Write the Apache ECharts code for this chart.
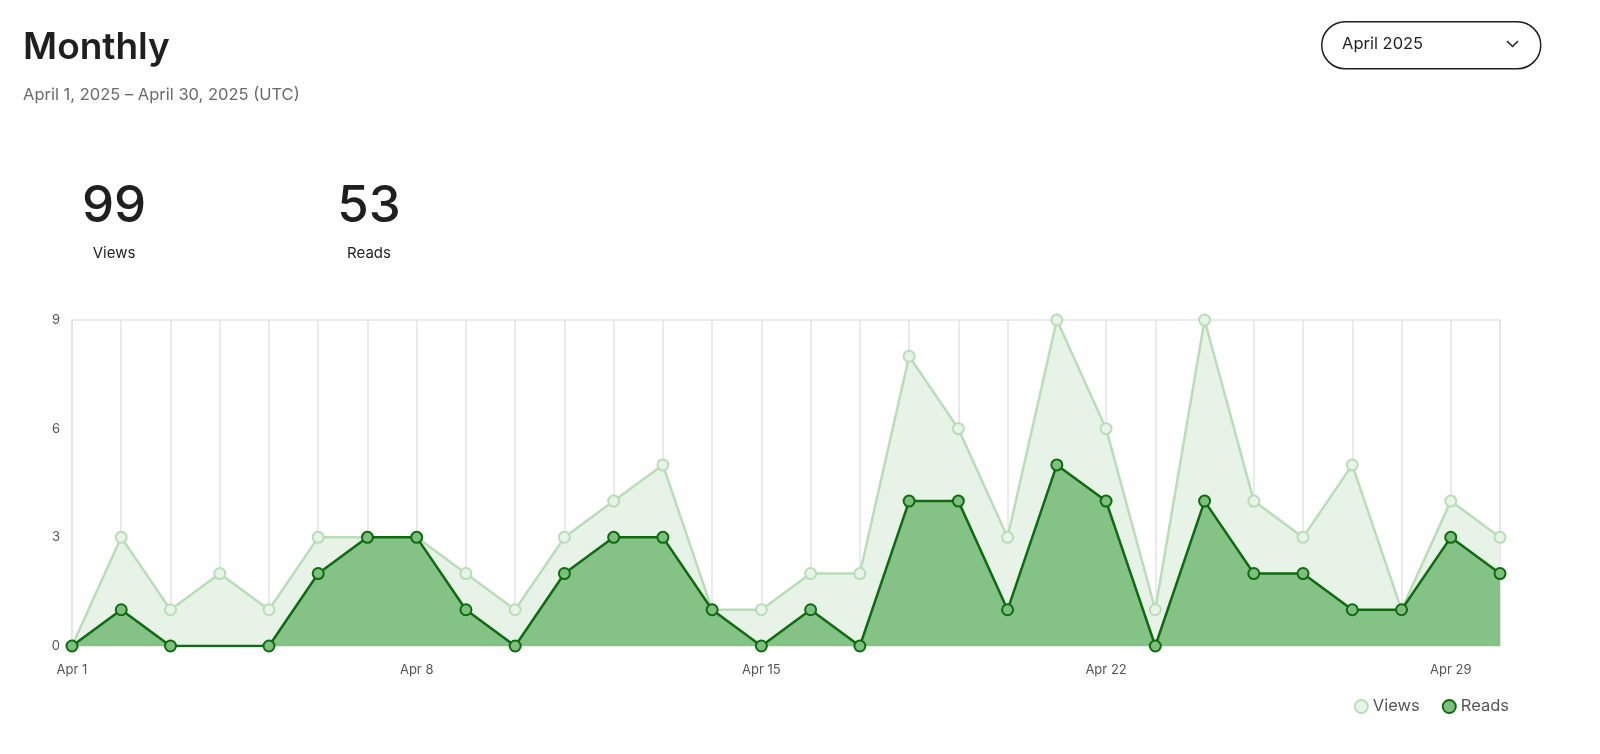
<!DOCTYPE html>
<html>
<head>
<meta charset="utf-8">
<script src="https://cdn.jsdelivr.net/npm/echarts@6/dist/echarts.min.js"></script>
<style>
  html, body { margin: 0; padding: 0; background: #ffffff; }
  #chart { width: 1600px; height: 754px; }
</style>
</head>
<body>
<div id="chart"></div>
<script>
const days = ["Apr 1","Apr 2","Apr 3","Apr 4","Apr 5","Apr 6","Apr 7","Apr 8","Apr 9","Apr 10",
  "Apr 11","Apr 12","Apr 13","Apr 14","Apr 15","Apr 16","Apr 17","Apr 18","Apr 19","Apr 20",
  "Apr 21","Apr 22","Apr 23","Apr 24","Apr 25","Apr 26","Apr 27","Apr 28","Apr 29","Apr 30"];
const views = [0,3,1,2,1,3,3,3,2,1, 3,4,5,1,1,2,2,8,6,3, 9,6,1,9,4,3,5,1,4,3];
const reads = [0,1,0,0,0,2,3,3,1,0, 2,3,3,1,0,1,0,4,4,1, 5,4,0,4,2,2,1,1,3,2];
const yTicks = [0,3,6,9];
const totalViews = "99";
const totalReads = "53";
const titleText = "Monthly";
const subtitleText = "April 1, 2025 – April 30, 2025 (UTC)";
const periodText = "April 2025";

const FONT = "Inter, 'Noto Sans', sans-serif";
const chart = echarts.init(document.getElementById('chart'), null, { renderer: 'canvas' });

const readsData = reads.map((v, i) => i === 3 ? { value: v, symbol: 'none' } : v);

chart.setOption({
  backgroundColor: '#ffffff',
  animation: false,
  textStyle: { fontFamily: FONT },
  title: [
    { text: titleText, left: 18, top: 24,
      textStyle: { fontFamily: FONT, fontSize: 37, fontWeight: 600, color: '#1f1f1f' } },
    { text: subtitleText, left: 18, top: 82,
      textStyle: { fontFamily: FONT, fontSize: 16.5, fontWeight: 400, color: '#6b6b6b' } },
    { text: totalViews, left: 109, top: 176, textAlign: 'center',
      textStyle: { fontFamily: FONT, fontSize: 51, fontWeight: 500, color: '#1f1f1f' } },
    { text: 'Views', left: 109, top: 241, textAlign: 'center',
      textStyle: { fontFamily: FONT, fontSize: 15, fontWeight: 400, color: '#1f1f1f' } },
    { text: totalReads, left: 364, top: 176, textAlign: 'center',
      textStyle: { fontFamily: FONT, fontSize: 51, fontWeight: 500, color: '#1f1f1f' } },
    { text: 'Reads', left: 364, top: 241, textAlign: 'center',
      textStyle: { fontFamily: FONT, fontSize: 15, fontWeight: 400, color: '#1f1f1f' } }
  ],
  graphic: [
    { type: 'rect', left: 1321, top: 21,
      shape: { width: 219, height: 47, r: 23.5 },
      style: { fill: '#ffffff', stroke: '#1f1f1f', lineWidth: 1.5 } },
    { type: 'text', left: 1342, top: 36,
      style: { text: periodText, font: '400 16.5px ' + FONT, fill: '#1f1f1f' } },
    { type: 'polyline',
      shape: { points: [[1507, 41], [1512.5, 46.5], [1518, 41]] },
      style: { stroke: '#1f1f1f', lineWidth: 1.5, fill: null } }
  ],
  legend: {
    right: 86, top: 693,
    icon: 'circle', itemWidth: 13, itemHeight: 13, itemGap: 22,
    textStyle: { fontFamily: FONT, fontSize: 16.5, color: '#555555' },
    data: ['Views', 'Reads']
  },
  grid: {
    left: 72, right: 100, top: 320, bottom: 108,
    show: true, borderColor: '#e3e3e3', borderWidth: 1.5, backgroundColor: 'transparent'
  },
  xAxis: {
    type: 'category', data: days, boundaryGap: false,
    axisLine: { show: false }, axisTick: { show: false },
    axisLabel: { interval: 6, color: '#555555', fontSize: 13, fontFamily: FONT, margin: 18 },
    splitLine: { show: true, interval: 0, lineStyle: { color: '#e3e3e3', width: 1.5 } }
  },
  yAxis: {
    type: 'value', min: yTicks[0], max: yTicks[yTicks.length - 1], interval: 3,
    axisLine: { show: false }, axisTick: { show: false },
    axisLabel: { color: '#555555', fontSize: 13, fontFamily: FONT, margin: 12 },
    splitLine: { show: false }
  },
  series: [
    { name: 'Views', type: 'line', data: views, symbol: 'circle', symbolSize: 11,
      lineStyle: { color: '#b9dcb9', width: 2.5 },
      itemStyle: { color: '#e9f4e9', borderColor: '#b9dcb9', borderWidth: 2 },
      areaStyle: { color: '#e7f3e7', opacity: 1 },
      z: 2 },
    { name: 'Reads', type: 'line', data: readsData, symbol: 'circle', symbolSize: 11,
      lineStyle: { color: '#0f6a12', width: 2.5 },
      itemStyle: { color: '#7dbf7d', borderColor: '#0f6a12', borderWidth: 2 },
      areaStyle: { color: '#85c285', opacity: 1 },
      z: 3 }
  ]
});
</script>
</body>
</html>
